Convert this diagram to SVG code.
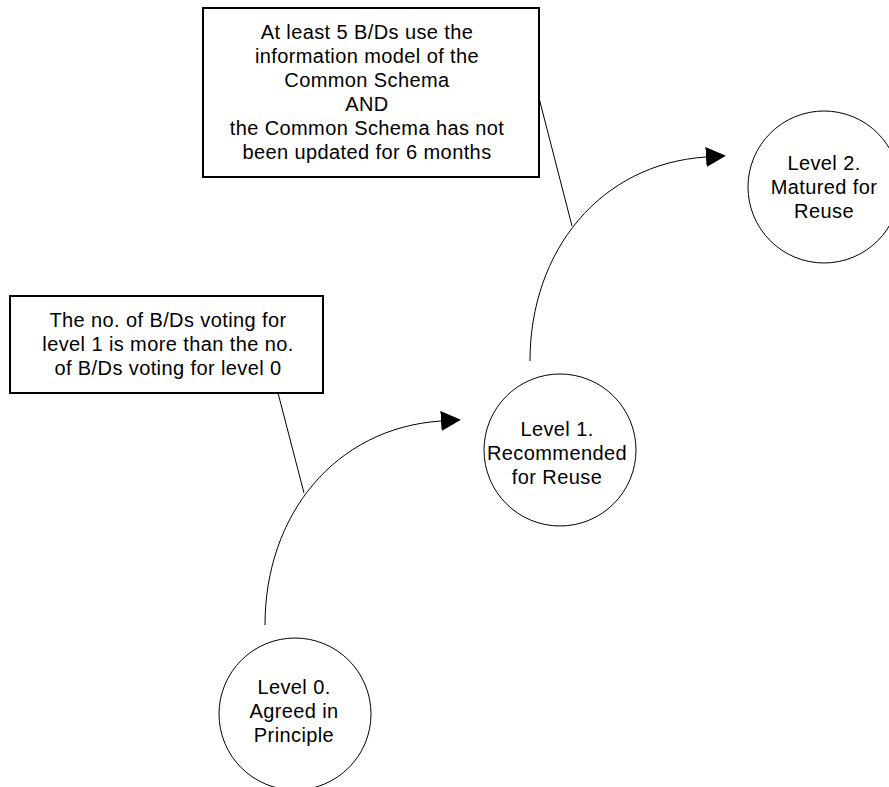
<svg xmlns="http://www.w3.org/2000/svg" width="889" height="787" viewBox="0 0 889 787">
<style>
.bg{fill:#fff}
.node circle{fill:#fff;stroke:#000;stroke-width:1}
.note rect{fill:#fff;stroke:#000;stroke-width:2}
text{font-family:"Liberation Sans",Arial,sans-serif;font-size:20px;letter-spacing:0.4px;fill:#000;text-anchor:middle}
.conn path,.conn line{fill:none;stroke:#000;stroke-width:1}
</style>
<defs>
<marker id="arr" markerWidth="20" markerHeight="20" refX="0" refY="10" orient="auto" markerUnits="userSpaceOnUse">
<path d="M0,0 L20,10 L0,20 Z" fill="#000"/>
</marker>
</defs>
<rect class="bg" x="0" y="0" width="889" height="787"/>
<g id="connectors" class="conn">
<path d="M265,625 C265,515 335,428 441,421" marker-end="url(#arr)"/>
<path d="M530,361 C530,251 600,164 706,157" marker-end="url(#arr)"/>
<line x1="278" y1="393" x2="304" y2="493"/>
<line x1="539" y1="98" x2="572" y2="226"/>
</g>
<g id="note1" class="note">
<rect x="10" y="296" width="313" height="97"/>
<text x="168" y="327">The no. of B/Ds voting for</text>
<text x="168" y="351">level 1 is more than the no.</text>
<text x="168" y="375">of B/Ds voting for level 0</text>
</g>
<g id="note2" class="note">
<rect x="203" y="8" width="336" height="169"/>
<text x="367" y="39">At least 5 B/Ds use the</text>
<text x="367" y="63">information model of the</text>
<text x="367" y="87">Common Schema</text>
<text x="367" y="111">AND</text>
<text x="367" y="135">the Common Schema has not</text>
<text x="367" y="159">been updated for 6 months</text>
</g>
<g id="level0" class="node">
<circle cx="295" cy="714" r="76"/>
<text x="294" y="694">Level 0.</text>
<text x="294" y="718">Agreed in</text>
<text x="294" y="742">Principle</text>
</g>
<g id="level1" class="node">
<circle cx="560" cy="450" r="76"/>
<text x="557" y="436">Level 1.</text>
<text x="557" y="460">Recommended</text>
<text x="557" y="484">for Reuse</text>
</g>
<g id="level2" class="node">
<circle cx="824" cy="187" r="76"/>
<text x="824" y="170">Level 2.</text>
<text x="824" y="194">Matured for</text>
<text x="824" y="218">Reuse</text>
</g>
</svg>
